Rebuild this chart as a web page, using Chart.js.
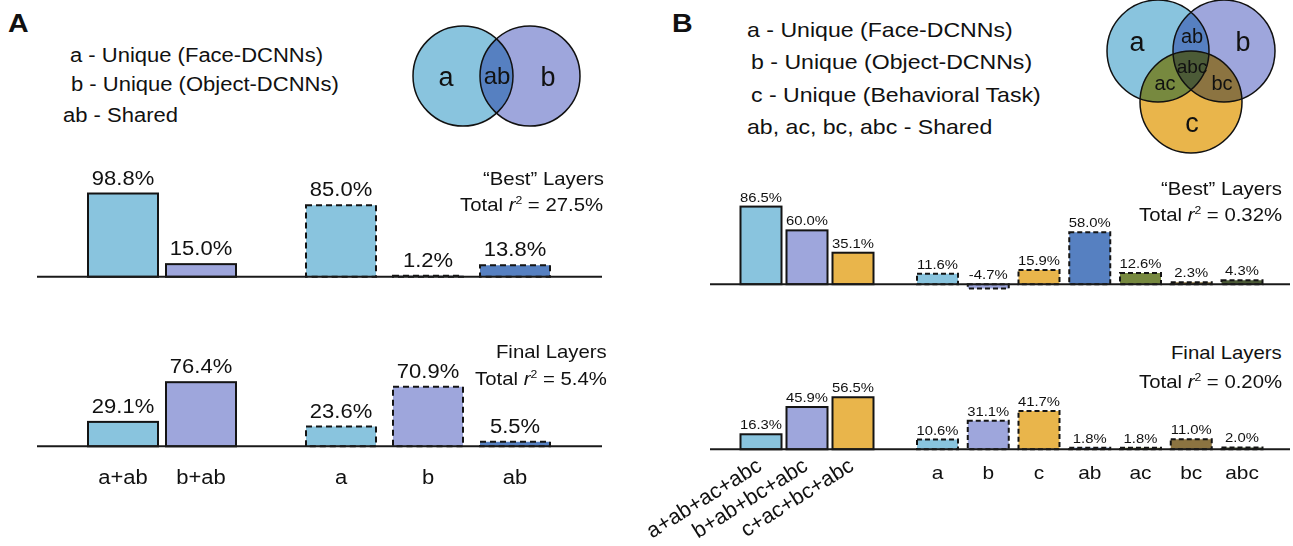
<!DOCTYPE html>
<html><head><meta charset="utf-8">
<script src="https://cdn.jsdelivr.net/npm/chart.js@4.4.1/dist/chart.umd.min.js"></script>
<style>
html,body{margin:0;padding:0;background:#fff;}
#root{position:relative;width:1293px;height:546px;overflow:hidden;font-family:"Liberation Sans",Arial,Helvetica,sans-serif;color:#111;}
.t{position:absolute;white-space:nowrap;line-height:1;}
.t sup{font-size:0.6em;vertical-align:0.62em;line-height:0;}
canvas{position:absolute;}
svg{position:absolute;left:0;top:0;}
</style></head><body><div id="root"></div>
<script>
// ---------------- DATA ----------------
const aPairLabels = ['a+ab', 'b+ab'];
const aPairBest   = [98.8, 15.0];
const aPairFinal  = [29.1, 76.4];
const aPartLabels = ['a', 'b', 'ab'];
const aPartBest   = [85.0, 1.2, 13.8];
const aPartFinal  = [23.6, 70.9, 5.5];

const bTripleLabels = ['a+ab+ac+abc', 'b+ab+bc+abc', 'c+ac+bc+abc'];
const bTripleBest   = [86.5, 60.0, 35.1];
const bTripleFinal  = [16.3, 45.9, 56.5];
const bPartLabels = ['a', 'b', 'c', 'ab', 'ac', 'bc', 'abc'];
const bPartBest   = [11.6, -4.7, 15.9, 58.0, 12.6, 2.3, 4.3];
const bPartFinal  = [10.6, 31.1, 41.7, 1.8, 1.8, 11.0, 2.0];

const totalR2 = { aBest: '27.5%', aFinal: '5.4%', bBest: '0.32%', bFinal: '0.20%' };

// ---------------- STYLE ----------------
const COL = { a:'#89C4DE', b:'#9EA6DC', c:'#E9B54B', ab:'#5680C1', ac:'#77893F', bc:'#8C7441', abc:'#4C5B37' };
const FONT = '"Liberation Sans", Arial, Helvetica, sans-serif';
const SX = 1.1; // horizontal text stretch
const root = document.getElementById('root');

function drawStretched(ctx, text, x, y, align, sx) {
  ctx.save(); ctx.translate(x, y); ctx.scale(sx, 1); ctx.textAlign = align; ctx.fillText(text, 0, 0); ctx.restore();
}

const decor = {
  id: 'decor',
  afterDatasetsDraw(chart, args, o) {
    const ctx = chart.ctx, meta = chart.getDatasetMeta(0), ys = chart.scales.y, xs = chart.scales.x;
    const y0 = ys.getPixelForValue(0);
    const vals = chart.data.datasets[0].data;
    ctx.save();
    meta.data.forEach((el, i) => {
      const p = el.getProps(['x', 'y', 'base', 'width'], true);
      const l = p.x - p.width / 2, top = Math.min(p.y, p.base), h = Math.abs(p.base - p.y);
      ctx.lineWidth = o.lw; ctx.strokeStyle = '#141414';
      ctx.setLineDash(o.dashed ? o.dash : []);
      ctx.strokeRect(l, top, p.width, h);
    });
    ctx.setLineDash([]);
    ctx.beginPath(); ctx.moveTo(o.lineFrom, y0); ctx.lineTo(o.lineTo, y0);
    ctx.lineWidth = 2; ctx.strokeStyle = '#1a1a1a'; ctx.stroke();
    ctx.fillStyle = '#111'; ctx.font = o.valFont; ctx.textBaseline = 'alphabetic';
    meta.data.forEach((el, i) => {
      const top = Math.min(el.y, el.base);
      drawStretched(ctx, vals[i].toFixed(1) + '%', el.x, top - o.valGap, 'center', SX);
    });
    if (o.ticks) {
      ctx.font = o.tickFont;
      chart.data.labels.forEach((lab, i) => {
        const x = xs.getPixelForValue(i);
        if (o.rotate) {
          ctx.save(); ctx.translate(x + o.rotDx, y0 + o.tickOff); ctx.rotate(-o.rotate * Math.PI / 180);
          ctx.textAlign = 'right'; ctx.textBaseline = 'middle'; ctx.fillText(lab, 0, 0); ctx.restore();
        } else {
          drawStretched(ctx, lab, x, y0 + o.tickOff, 'center', SX);
        }
      });
    }
    ctx.restore();
  }
};

function group(cfg) {
  const n = cfg.labels.length;
  const areaL = cfg.c0 - cfg.s / 2, areaR = cfg.c0 + (n - 0.5) * cfg.s;
  const top = cfg.baseline - cfg.ymax * cfg.ppu;
  const h = (cfg.ymax - cfg.ymin) * cfg.ppu;
  const cv = document.createElement('canvas');
  cv.width = cfg.cx1 - cfg.cx0; cv.height = Math.round(h);
  cv.style.left = cfg.cx0 + 'px'; cv.style.top = top + 'px';
  root.appendChild(cv);
  new Chart(cv, {
    type: 'bar',
    data: { labels: cfg.labels, datasets: [{ data: cfg.data, backgroundColor: cfg.colors, borderWidth: 0,
      barPercentage: cfg.bw / cfg.s, categoryPercentage: 1 }] },
    options: {
      responsive: false, animation: false, events: [],
      layout: { padding: { left: areaL - cfg.cx0, right: cfg.cx1 - areaR, top: 0, bottom: 0 } },
      scales: {
        x: { type: 'category', offset: true, display: false },
        y: { display: false, min: cfg.ymin, max: cfg.ymax }
      },
      plugins: { legend: { display: false }, tooltip: { enabled: false },
        decor: { dashed: cfg.dashed, dash: cfg.dash, lw: cfg.lw || 2, lineFrom: cfg.lx0 - cfg.cx0, lineTo: cfg.lx1 - cfg.cx0,
          valFont: cfg.valFont, valGap: cfg.valGap, ticks: !!cfg.ticks, tickFont: cfg.tickFont, tickOff: cfg.tickOff,
          rotate: cfg.rotate || 0, rotDx: cfg.rotDx || 0 } }
    },
    plugins: [decor]
  });
}

// ---- Panel A ----
const aVal = '20px ' + FONT, aTick = '20px ' + FONT;
const aBestGeo = { baseline: 276, ppu: 0.84, ymin: -5, ymax: 135 };
const aFinalGeo = { baseline: 446, ppu: 0.84, ymin: -58, ymax: 135 };
const aLeft = { labels: aPairLabels, colors: [COL.a, COL.b], c0: 123, s: 78, bw: 70, cx0: 30, cx1: 270, lx0: 37, lx1: 270, dashed: false, dash: [6, 4], valFont: aVal, valGap: 9, tickFont: aTick, tickOff: 38 };
const aRight = { labels: aPartLabels, colors: [COL.a, COL.b, COL.ab], c0: 341, s: 87, bw: 70, cx0: 270, cx1: 615, lx0: 270, lx1: 602, dashed: true, dash: [6, 4], valFont: aVal, valGap: 9, tickFont: aTick, tickOff: 38 };
group({ ...aLeft, ...aBestGeo, data: aPairBest });
group({ ...aRight, ...aBestGeo, data: aPartBest });
group({ ...aLeft, ...aFinalGeo, data: aPairFinal, ticks: true });
group({ ...aRight, ...aFinalGeo, data: aPartFinal, ticks: true });

// ---- Panel B ----
const bVal = '13.5px ' + FONT, bTick = '19px ' + FONT;
const bBestGeo = { baseline: 284, ppu: 0.9, ymin: -12, ymax: 115 };
const bFinalGeo = { baseline: 449, ppu: 0.92, ymin: -105, ymax: 85 };
const bLeft = { labels: bTripleLabels, colors: [COL.a, COL.b, COL.c], c0: 761, s: 46, bw: 41, cx0: 620, cx1: 895, lx0: 710, lx1: 895, dashed: false, dash: [5, 3], valFont: bVal, valGap: 5, tickFont: '21.5px ' + FONT, tickOff: 15, rotate: 32, rotDx: -1 };
const bRight = { labels: bPartLabels, colors: [COL.a, COL.b, COL.c, COL.ab, COL.ac, COL.bc, COL.abc], c0: 937.5, s: 50.75, bw: 41, cx0: 895, cx1: 1293, lx0: 895, lx1: 1290, dashed: true, dash: [5, 3], valFont: bVal, valGap: 5, tickFont: bTick, tickOff: 30 };
group({ ...bLeft, ...bBestGeo, data: bTripleBest });
group({ ...bRight, ...bBestGeo, data: bPartBest });
group({ ...bLeft, ...bFinalGeo, data: bTripleFinal, ticks: true });
group({ ...bRight, ...bFinalGeo, data: bPartFinal, ticks: true });

// ---------------- TEXT ----------------
function txt(html, x, base, fs, align, extra) {
  const d = document.createElement('div');
  d.className = 't'; d.innerHTML = html;
  d.style.fontSize = fs + 'px';
  d.style.top = (base - 0.8465 * fs) + 'px';
  if (align === 'right') { d.style.right = (1293 - x) + 'px'; d.style.transformOrigin = 'right top'; }
  else { d.style.left = x + 'px'; d.style.transformOrigin = 'left top'; }
  d.style.transform = 'scaleX(' + SX + ')';
  if (extra) Object.assign(d.style, extra);
  root.appendChild(d);
}
const r2 = v => 'Total <i>r</i><sup>2</sup> = ' + v;
txt('A', 8, 32, 26, 'left', { fontWeight: 'bold' });
txt('B', 672, 32, 26, 'left', { fontWeight: 'bold' });
txt('a - Unique (Face-DCNNs)', 70, 62, 20);
txt('b - Unique (Object-DCNNs)', 71, 91, 20);
txt('ab - Shared', 63, 122, 20);
txt('a - Unique (Face-DCNNs)', 747, 37, 21);
txt('b - Unique (Object-DCNNs)', 751, 69, 21);
txt('c - Unique (Behavioral Task)', 751, 102, 21);
txt('ab, ac, bc, abc - Shared', 747, 134, 21);
txt('“Best” Layers', 604, 186, 18.5, 'right');
txt(r2(totalR2.aBest), 603, 212, 18.5, 'right');
txt('Final Layers', 607, 359, 18.5, 'right');
txt(r2(totalR2.aFinal), 607, 386, 18.5, 'right');
txt('“Best” Layers', 1282, 196, 18.5, 'right');
txt(r2(totalR2.bBest), 1282, 222, 18.5, 'right');
txt('Final Layers', 1282, 360, 18.5, 'right');
txt(r2(totalR2.bFinal), 1282, 389, 18.5, 'right');

// ---------------- VENN ----------------
root.insertAdjacentHTML('beforeend', `
<svg width="1293" height="546" viewBox="0 0 1293 546">
 <defs>
  <clipPath id="vA"><circle cx="463" cy="76" r="50"/></clipPath>
  <clipPath id="Ba"><circle cx="1158" cy="51" r="51"/></clipPath>
  <clipPath id="Bb"><circle cx="1224" cy="51" r="51"/></clipPath>
 </defs>
 <circle cx="463" cy="76" r="50" fill="${COL.a}"/>
 <circle cx="530" cy="76" r="50" fill="${COL.b}"/>
 <circle cx="530" cy="76" r="50" fill="${COL.ab}" clip-path="url(#vA)"/>
 <circle cx="463" cy="76" r="50" fill="none" stroke="#111" stroke-width="1.5"/>
 <circle cx="530" cy="76" r="50" fill="none" stroke="#111" stroke-width="1.5"/>
 <g font-family='${FONT}' fill="#111" text-anchor="middle">
  <text x="446" y="86" font-size="27">a</text>
  <text x="497" y="84" font-size="24">ab</text>
  <text x="548" y="86" font-size="27">b</text>
 </g>

 <circle cx="1158" cy="51" r="51" fill="${COL.a}"/>
 <circle cx="1224" cy="51" r="51" fill="${COL.b}"/>
 <circle cx="1191" cy="102" r="51" fill="${COL.c}"/>
 <circle cx="1224" cy="51" r="51" fill="${COL.ab}" clip-path="url(#Ba)"/>
 <circle cx="1191" cy="102" r="51" fill="${COL.ac}" clip-path="url(#Ba)"/>
 <circle cx="1191" cy="102" r="51" fill="${COL.bc}" clip-path="url(#Bb)"/>
 <g clip-path="url(#Ba)"><circle cx="1191" cy="102" r="51" fill="${COL.abc}" clip-path="url(#Bb)"/></g>
 <circle cx="1158" cy="51" r="51" fill="none" stroke="#111" stroke-width="1.5"/>
 <circle cx="1224" cy="51" r="51" fill="none" stroke="#111" stroke-width="1.5"/>
 <circle cx="1191" cy="102" r="51" fill="none" stroke="#111" stroke-width="1.5"/>
 <g font-family='${FONT}' fill="#111" text-anchor="middle">
  <text x="1137" y="51" font-size="27">a</text>
  <text x="1243" y="51" font-size="27">b</text>
  <text x="1192" y="43" font-size="20">ab</text>
  <text x="1192" y="73" font-size="19">abc</text>
  <text x="1165" y="90" font-size="20">ac</text>
  <text x="1222" y="90" font-size="20">bc</text>
  <text x="1192" y="132" font-size="27">c</text>
 </g>
</svg>`);
</script>
</body></html>
